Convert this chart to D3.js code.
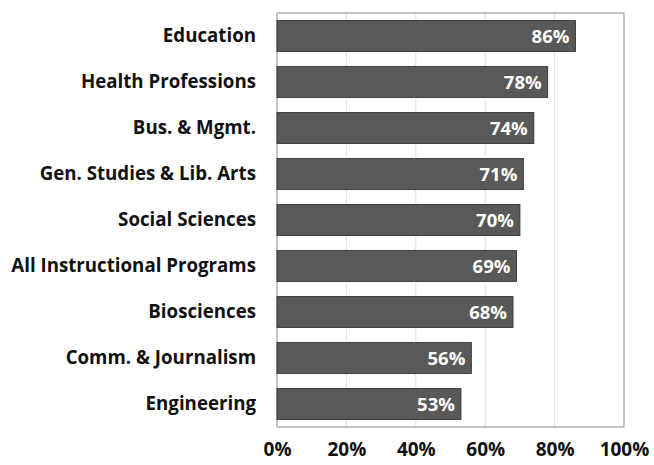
<!DOCTYPE html>
<html>
<head>
<meta charset="utf-8">
<script src="https://cdn.jsdelivr.net/npm/d3@7"></script>
<style>
  body { margin: 0; background: #fff; }
  text { font-family: "Open Sans", "Noto Sans", sans-serif; font-weight: bold; }
</style>
</head>
<body>
<div id="chart"></div>
<script>
const categories = ["Education", "Health Professions", "Bus. & Mgmt.", "Gen. Studies & Lib. Arts",
  "Social Sciences", "All Instructional Programs", "Biosciences", "Comm. & Journalism", "Engineering"];
const values = [86, 78, 74, 71, 70, 69, 68, 56, 53];
const ticks = [0, 20, 40, 60, 80, 100];

const W = 654, H = 465;
const margin = {top: 13, right: 30, bottom: 38, left: 277};

const svg = d3.select("#chart").append("svg")
    .attr("width", W)
    .attr("height", H);

const x = d3.scaleLinear().domain([0, 100]).range([margin.left, W - margin.right]);
const y = d3.scaleBand().domain(categories).range([margin.top, H - margin.bottom]).paddingInner(0.33).paddingOuter(0.165);

// gridlines
svg.append("g")
    .selectAll("line")
    .data(ticks.slice(1, -1))
    .enter()
    .append("line")
    .attr("x1", d => x(d)).attr("x2", d => x(d))
    .attr("y1", margin.top).attr("y2", H - margin.bottom)
    .attr("stroke", "#e0e0e0")
    .attr("stroke-width", 1);

// plot area border
svg.append("rect")
    .attr("x", x(0)).attr("y", margin.top)
    .attr("width", x(100) - x(0))
    .attr("height", H - margin.bottom - margin.top)
    .attr("fill", "none")
    .attr("stroke", "#8c8c8c");

// bars
svg.append("g")
    .selectAll("rect")
    .data(values)
    .enter()
    .append("rect")
    .attr("x", x(0))
    .attr("y", (d, i) => y(categories[i]))
    .attr("width", d => x(d) - x(0))
    .attr("height", y.bandwidth())
    .attr("fill", "#595959")
    .attr("stroke", "#3a3a3a");

// value labels
svg.append("g")
    .selectAll("text")
    .data(values)
    .enter()
    .append("text")
    .attr("x", d => x(d) - 6)
    .attr("y", (d, i) => y(categories[i]) + y.bandwidth() / 2)
    .attr("dy", "0.36em")
    .attr("text-anchor", "end")
    .attr("fill", "#fff")
    .style("font-size", "18.5px")
    .text(d => d + "%");

// category axis
const yAxis = d3.axisLeft(y).tickSize(0).tickPadding(21);
svg.append("g")
    .attr("transform", `translate(${x(0)},0)`)
    .call(yAxis)
    .call(g => g.select(".domain").remove())
    .selectAll("text")
    .attr("fill", "#111")
    .style("font-size", "18.7px")
    .style("font-family", "\"Open Sans\", sans-serif");

// value axis
const xAxis = d3.axisBottom(x).tickValues(ticks).tickSize(0).tickPadding(16).tickFormat(d => d + "%");
svg.append("g")
    .attr("transform", `translate(0,${H - margin.bottom})`)
    .call(xAxis)
    .call(g => g.select(".domain").remove())
    .selectAll("text")
    .attr("fill", "#111")
    .style("font-size", "19px")
    .style("font-family", "\"Open Sans\", sans-serif");
</script>
</body>
</html>
